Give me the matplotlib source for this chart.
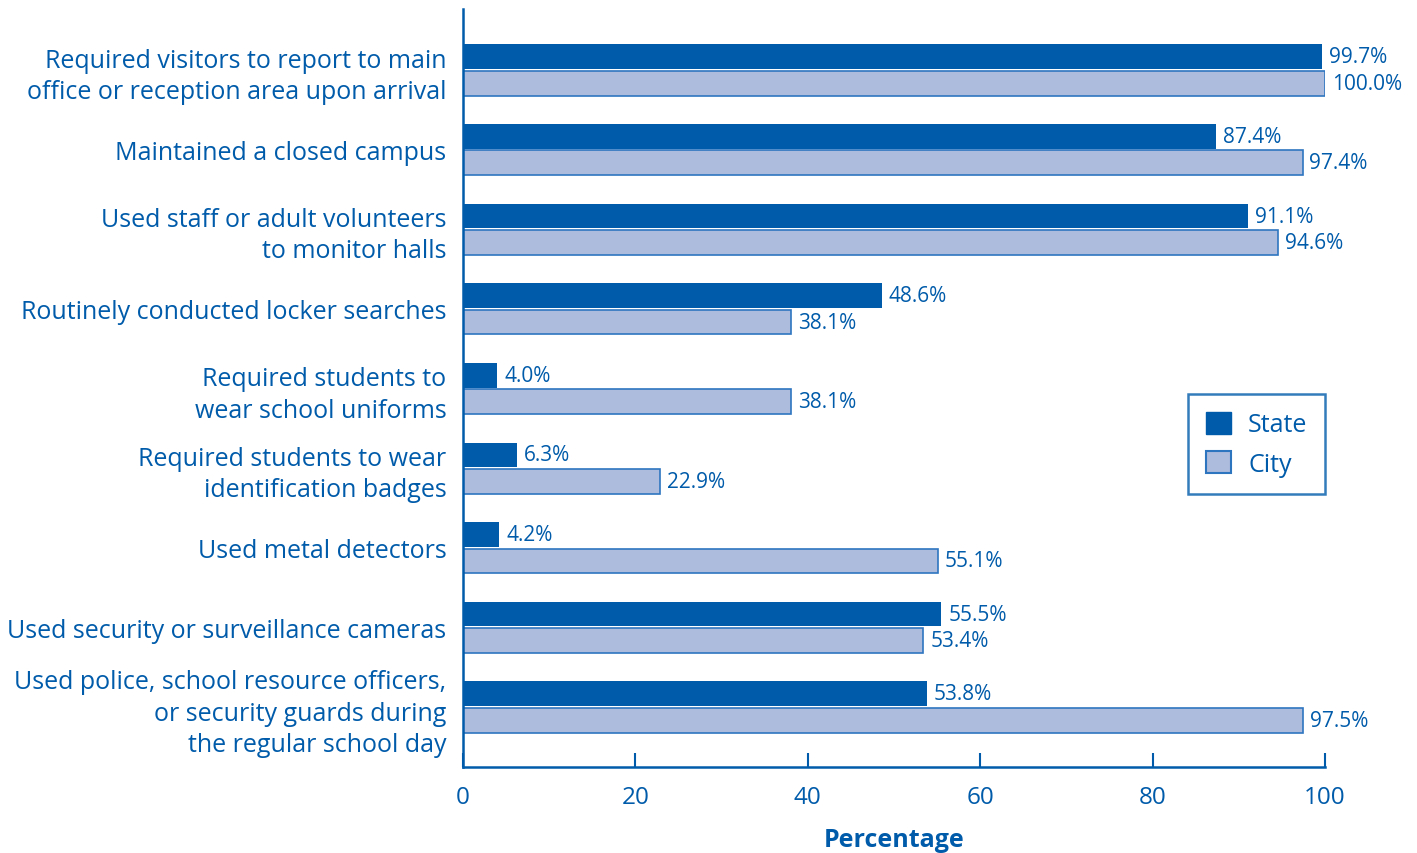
import matplotlib
matplotlib.use("Agg")
import matplotlib.pyplot as plt
import numpy as np
from matplotlib.patches import Patch

categories = [
    "Required visitors to report to main\noffice or reception area upon arrival",
    "Maintained a closed campus",
    "Used staff or adult volunteers\nto monitor halls",
    "Routinely conducted locker searches",
    "Required students to\nwear school uniforms",
    "Required students to wear\nidentification badges",
    "Used metal detectors",
    "Used security or surveillance cameras",
    "Used police, school resource officers,\nor security guards during\nthe regular school day",
]
state = [99.7, 87.4, 91.1, 48.6, 4.0, 6.3, 4.2, 55.5, 53.8]
city = [100.0, 97.4, 94.6, 38.1, 38.1, 22.9, 55.1, 53.4, 97.5]
xticks = [0, 20, 40, 60, 80, 100]

DARK = "#005BAA"
LIGHT = "#ADBBDD"
EDGE = "#2E75C0"
TXT = "#005BAA"

plt.rcParams['font.family'] = ['Open Sans', 'DejaVu Sans']

fig = plt.figure(figsize=(14.17, 8.54), dpi=100)
ax = fig.add_axes([463/1417, 1-768/854, (1325-463)/1417, (768-10)/854])

y = np.arange(len(categories))
h = 0.31
off = 0.166
ax.barh(y - off, state, height=h, color=DARK, edgecolor="none", zorder=2)
ax.barh(y + off, city, height=h, color=LIGHT, edgecolor=EDGE, linewidth=1.2, zorder=2)

for yi, v in zip(y, state):
    ax.text(v + 0.8, yi - off, f"{v:.1f}%", va="center", ha="left", fontsize=15, color=TXT)
for yi, v in zip(y, city):
    ax.text(v + 0.8, yi + off, f"{v:.1f}%", va="center", ha="left", fontsize=15, color=TXT)

ax.set_xlim(0, 100)
ax.set_ylim(8.754, -0.766)
ax.set_yticks(y)
ax.set_yticklabels(categories, fontsize=18, color=TXT, ha="right", linespacing=1.32)
ax.tick_params(axis="y", length=0, pad=12)
ax.set_xticks(xticks)
ax.set_xticklabels([str(t) for t in xticks], fontsize=17.5, color=TXT)
ax.tick_params(axis="x", direction="in", length=10, width=1.5, color=DARK, pad=13)
ax.set_xlabel("Percentage", fontsize=18, fontweight="bold", color=TXT, labelpad=13)

for s in ["top", "right"]:
    ax.spines[s].set_visible(False)
for s in ["left", "bottom"]:
    ax.spines[s].set_color(DARK)
    ax.spines[s].set_linewidth(1.8)

handles = [Patch(facecolor=DARK, edgecolor=DARK, label="State"),
           Patch(facecolor=LIGHT, edgecolor=EDGE, linewidth=1.5, label="City")]
leg = fig.legend(handles=handles, loc="upper left",
                 bbox_to_anchor=(1188/1417, 1-395/854), frameon=True, fancybox=False,
                 fontsize=18, handlelength=1.0, handleheight=1.0, borderpad=0.7,
                 labelspacing=0.55, handletextpad=0.7, borderaxespad=0)
leg.get_frame().set_edgecolor(DARK)
leg.get_frame().set_linewidth(1.8)
for t in leg.get_texts():
    t.set_color(TXT)

fig.savefig("out.png", dpi=100)
